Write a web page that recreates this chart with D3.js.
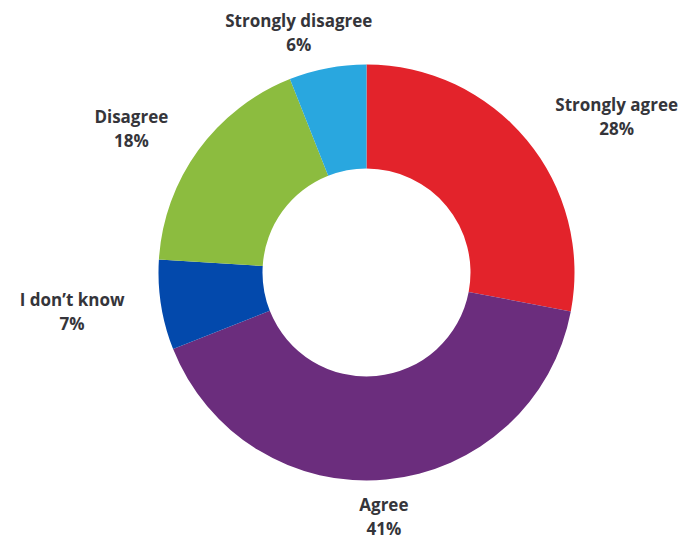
<!DOCTYPE html>
<html>
<head>
<meta charset="utf-8">
<script src="https://cdnjs.cloudflare.com/ajax/libs/d3/7.8.5/d3.min.js"></script>
<style>
  body { margin: 0; background: #fff; }
  text { font-family: "Open Sans", Lato, sans-serif; font-weight: 700; fill: #35353a; }
</style>
</head>
<body>
<script>
var categories = ["Strongly agree", "Agree", "I don\u2019t know", "Disagree", "Strongly disagree"];
var values = [28, 41, 7, 18, 6];
var colors = ["#e3232b", "#6b2d7d", "#0349ac", "#8cbc3f", "#29a7df"];

var screen = {width: 689, height: 539};
var center = {x: 366.5, y: 272.5};
var outerR = 208, innerR = 104, labelR = 245;

var svg = d3.select("body")
            .append("svg")
            .attr("width", screen.width)
            .attr("height", screen.height);

var data = categories.map(function(c, i) { return {name: c, value: values[i], color: colors[i]}; });

var pie = d3.pie()
            .sort(null)
            .value(function(d) { return d.value; });

var arc = d3.arc()
            .innerRadius(innerR)
            .outerRadius(outerR);

var g = svg.append("g")
           .attr("transform", "translate(" + center.x + "," + center.y + ")");

var slices = pie(data);

g.selectAll("path")
 .data(slices)
 .enter()
 .append("path")
 .attr("d", arc)
 .attr("fill", function(d) { return d.data.color; });

// two-line labels, centred as a block just outside the ring
var labels = g.selectAll(".label")
              .data(slices)
              .enter()
              .append("text")
              .attr("class", "label")
              .attr("font-size", "17px")
              .attr("text-anchor", "middle");

labels.append("tspan")
      .attr("class", "name")
      .attr("x", 0)
      .attr("y", -5)
      .text(function(d) { return d.data.name; });

labels.append("tspan")
      .attr("x", 0)
      .attr("y", 19)
      .text(function(d) { return d.data.value + "%"; });

labels.attr("transform", function(d) {
  var a = (d.startAngle + d.endAngle) / 2;
  var s = Math.sin(a);
  var w = d3.select(this).select(".name").node().getComputedTextLength();
  var x = labelR * s;
  var y = -labelR * Math.cos(a);
  if (Math.abs(s) > 0.5) x += (s > 0 ? 1 : -1) * w / 2;
  else x += s * w / 2 - 8;
  return "translate(" + x + "," + y + ")";
});
</script>
</body>
</html>
